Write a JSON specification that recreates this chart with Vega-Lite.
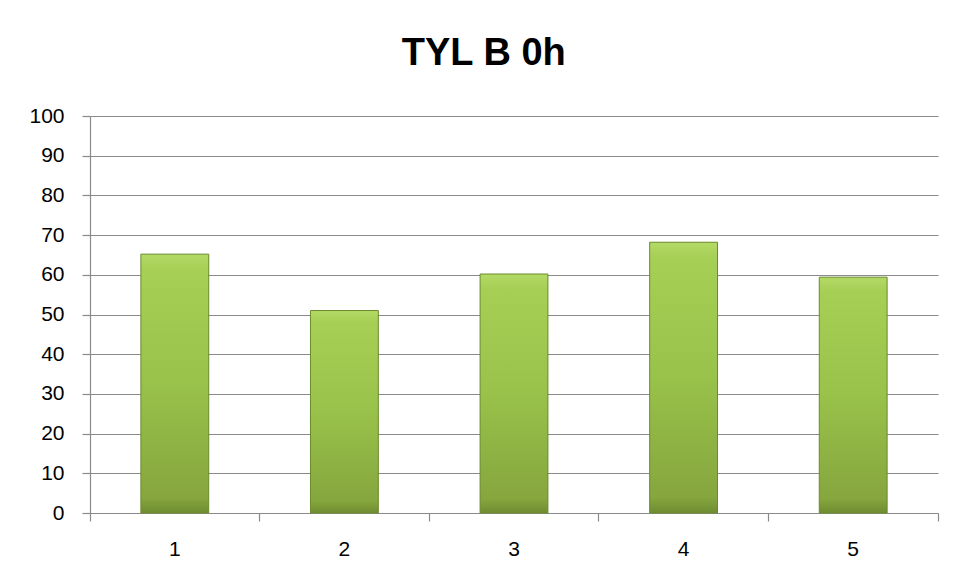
{
  "$schema": "https://vega.github.io/schema/vega-lite/v6.json",
  "width": 848,
  "height": 397,
  "autosize": {"type": "none"},
  "padding": {"left": 90, "top": 116, "right": 19, "bottom": 65},
  "background": "white",
  "config": {
    "view": {"stroke": null},
    "font": "Liberation Sans",
    "axis": {
      "labelFontSize": 21,
      "labelColor": "#000000",
      "labelFont": "Liberation Sans",
      "labelOverlap": false,
      "tickColor": "#8a8a8a",
      "tickWidth": 1.2,
      "tickSize": 8,
      "domainColor": "#8a8a8a",
      "domainWidth": 1.2,
      "gridColor": "#8a8a8a",
      "gridWidth": 1.2
    }
  },
  "title": {
    "text": "TYL B 0h",
    "font": "Liberation Sans",
    "fontSize": 38,
    "fontWeight": "bold",
    "color": "#000000",
    "anchor": "middle",
    "frame": "bounds",
    "dx": 0,
    "offset": 32
  },
  "data": {
    "values": [
      {"sample": "1", "value": 65.2},
      {"sample": "2", "value": 51.0},
      {"sample": "3", "value": 60.2},
      {"sample": "4", "value": 68.2},
      {"sample": "5", "value": 59.4}
    ]
  },
  "encoding": {
    "y": {
      "field": "value",
      "type": "quantitative",
      "scale": {"domain": [0, 100], "nice": false},
      "axis": {
        "title": null,
        "values": [0, 10, 20, 30, 40, 50, 60, 70, 80, 90, 100],
        "labelOverlap": false,
        "labelFontSize": 21,
        "grid": true,
        "labelPadding": 18
      }
    }
  },
  "resolve": {"axis": {"x": "independent"}},
  "layer": [
    {
      "mark": {
        "type": "bar",
        "width": {"band": 0.4},
        "stroke": "#6a8a2c",
        "strokeWidth": 1,
        "color": {
          "gradient": "linear",
          "x1": 0, "y1": 0, "x2": 0, "y2": 1,
          "stops": [
            {"offset": 0, "color": "#b3da66"},
            {"offset": 0.06, "color": "#a6cf55"},
            {"offset": 0.5, "color": "#98c24a"},
            {"offset": 0.94, "color": "#86a63e"},
            {"offset": 1, "color": "#6f8d31"}
          ]
        }
      },
      "encoding": {
        "x": {
          "field": "sample",
          "type": "nominal",
          "scale": {"paddingInner": 0, "paddingOuter": 0},
          "axis": {
            "orient": "bottom",
            "title": null,
            "labelAngle": 0,
            "ticks": false,
            "domain": false,
            "grid": false,
            "labelFontSize": 21,
            "labelPadding": 25
          }
        }
      }
    },
    {
      "mark": {"type": "bar", "opacity": 0},
      "encoding": {
        "x": {
          "field": "sample",
          "type": "nominal",
          "axis": {
            "orient": "bottom",
            "title": null,
            "labels": false,
            "bandPosition": 0,
            "ticks": true,
            "domain": true,
            "grid": false
          }
        }
      }
    },
    {
      "mark": {"type": "bar", "opacity": 0},
      "encoding": {
        "x": {
          "field": "sample",
          "type": "nominal",
          "axis": {
            "orient": "bottom",
            "title": null,
            "labels": false,
            "values": ["5"],
            "bandPosition": 1,
            "ticks": true,
            "domain": false,
            "grid": false
          }
        }
      }
    }
  ]
}
